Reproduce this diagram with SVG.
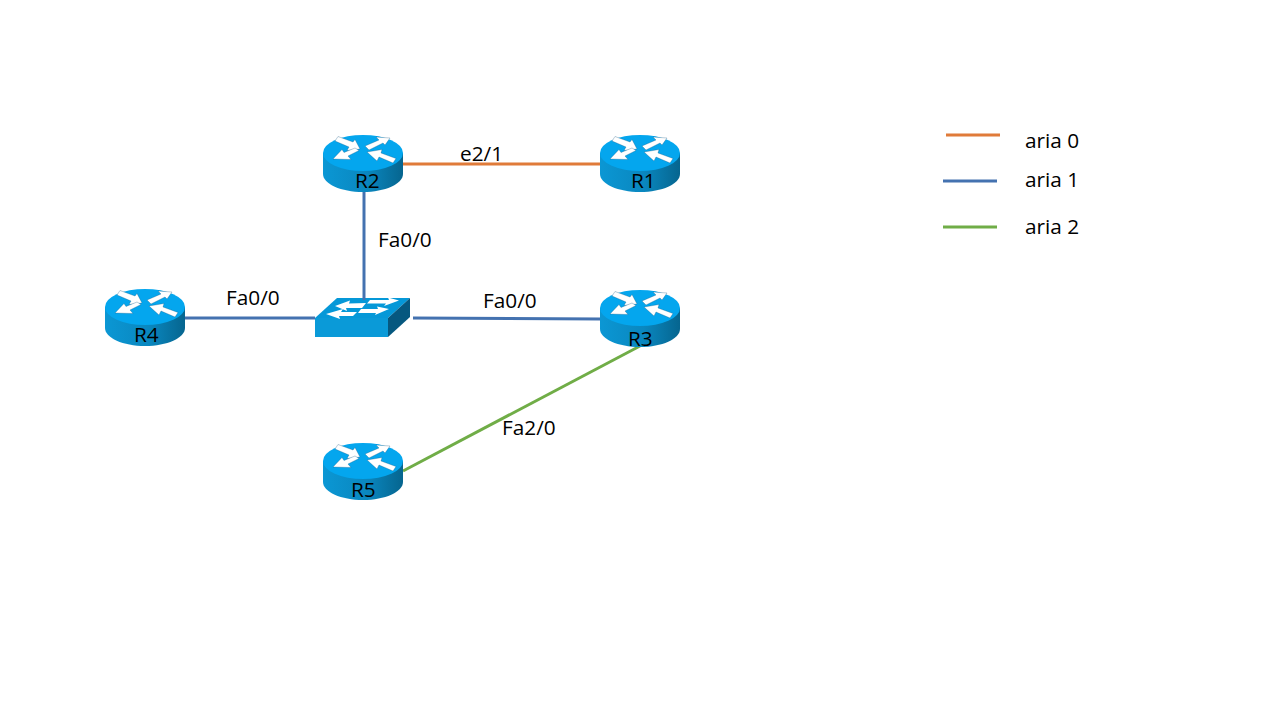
<svg xmlns="http://www.w3.org/2000/svg" width="1280" height="720" viewBox="0 0 1280 720">
<style>
text{font-family:"Open Sans","Liberation Sans",sans-serif;font-size:20.8px;fill:#000}
.l{fill:none;stroke-width:3}
.a0{stroke:#e07b39}.a1{stroke:#4472b0}.a2{stroke:#70ad47}
.ar{fill:#fff;stroke:#0a4f7a;stroke-width:.3}
</style>
<defs>
<linearGradient id="side" x1="0" x2="1" y1="0" y2="0">
<stop offset="0" stop-color="#0b97d4"/><stop offset=".55" stop-color="#0a87bf"/><stop offset="1" stop-color="#06658f"/>
</linearGradient>
<g id="router">
<path d="M0 18V39C0 49 18 57 40 57S80 49 80 39V18Z" fill="url(#side)"/>
<ellipse cx="40" cy="18" rx="40" ry="18" fill="#04a6ee"/>
<polygon class="ar" points="15,1.500 30,7 32,4.500 37,14 24,15.500 26,12 12,6"/>
<polygon class="ar" points="42,11 56,5 53,2 67,3 62,10 60,8 46,15"/>
<polygon class="ar" points="36,15.500 25,21 28,24.500 10,24 19,14.500 21,17.500 32,13"/>
<polygon class="ar" points="73,23.500 70,28 56,22 54,26 44,17 59,14.500 58,18"/>
</g>
</defs>
<g id="connectors">
<line class="l a0" x1="403" y1="164" x2="601" y2="164"/>
<line class="l a1" x1="364" y1="192" x2="364" y2="298"/>
<line class="l a1" x1="185" y1="318" x2="315" y2="318"/>
<line class="l a1" x1="413" y1="318" x2="601" y2="319"/>
<line class="l a2" x1="403" y1="471" x2="640" y2="346"/>
</g>
<g id="R2"><use href="#router" x="323" y="135"/><text x="355" y="188">R2</text></g>
<g id="R1"><use href="#router" x="600" y="135"/><text x="631" y="188">R1</text></g>
<g id="R4"><use href="#router" x="105" y="289"/><text x="134" y="342">R4</text></g>
<g id="R3"><use href="#router" x="600" y="290"/><text x="628" y="346">R3</text></g>
<g id="R5"><use href="#router" x="323" y="443"/><text x="351" y="497">R5</text></g>
<g id="SW">
<polygon points="315,318 337,298 410,298 388,318" fill="#0598d8"/>
<polygon points="388,318 410,298 410,317 388,337" fill="#06587f"/>
<rect x="315" y="318" width="73" height="19" fill="#0a9ad8"/>
<g fill="#fff">
<polygon points="335,306 350,300.500 349,303.500 366,303 362,308 346,308 347,311"/>
<polygon points="370,300 389,300 388,297.500 399,300.500 384,306 386,303.500 367,303.500"/>
<polygon points="326,314 343,309 341,312 357,312 353,316 339,316 340,319"/>
<polygon points="361,309 378,309 377,306.500 389,309 375,315 376,313 358,313"/>
</g>
<line x1="364" y1="298" x2="364" y2="300" class="l a1"/>
</g>
<g id="labels">
<text x="460" y="161">e2/1</text>
<text x="378" y="247">Fa0/0</text>
<text x="226" y="305">Fa0/0</text>
<text x="483" y="308">Fa0/0</text>
<text x="502" y="435">Fa2/0</text>
</g>
<g id="legend">
<line class="l a0" x1="946" y1="135" x2="1000" y2="135"/>
<line class="l a1" x1="943" y1="181" x2="997" y2="181"/>
<line class="l a2" x1="943" y1="227" x2="997" y2="227"/>
<text x="1025" y="148">aria 0</text>
<text x="1025" y="187">aria 1</text>
<text x="1025" y="234">aria 2</text>
</g>
</svg>
